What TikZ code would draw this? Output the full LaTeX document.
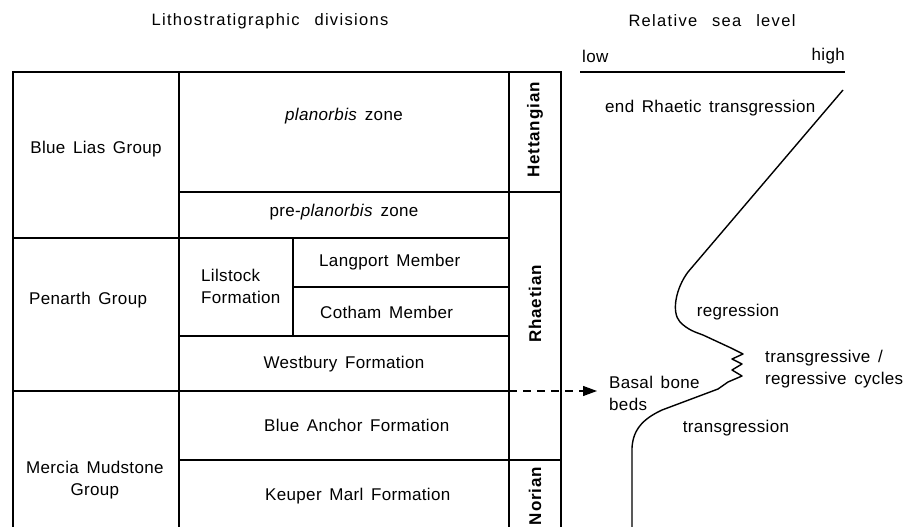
\documentclass[tikz,border=0pt]{standalone}
\usepackage{fontspec}
\setmainfont{Liberation Sans}
\usetikzlibrary{arrows.meta}

\newcommand\litfont{\fontsize{17}{22}\selectfont\addfontfeatures{LetterSpace=2}\spaceskip=0.45em\relax}
\newcommand\headfont{\fontsize{16.5}{19}\selectfont\addfontfeatures{LetterSpace=8}\spaceskip=0.9em\relax}
\newcommand\stagefont{\fontsize{17}{20}\selectfont\bfseries\addfontfeatures{LetterSpace=5}}

\begin{document}
\begin{tikzpicture}
        [x=1pt, y=-1pt,
        rule/.style={line width=1.1pt, black},
        txt/.style={font=\litfont, inner sep=0pt, align=center},
        stage/.style={font=\stagefont, rotate=90, inner sep=0pt},
        head/.style={font=\headfont, inner sep=0pt},
        sealevel/.style={line width=1.4pt, line join=round},
        bonebed/.style={line width=1.1pt, dash pattern=on 8pt off 6pt, -{Triangle[length=14pt,width=10pt]}}]

        \useasboundingbox (0,0) rectangle (914,527);

        % headings
        \node[head] (litho) at (270,21) {Lithostratigraphic divisions};
        \node[head] (relsea) at (712,21) {Relative sea level};

        % table lines
        \draw[rule] (13,527) -- (13,72) -- (561,72) -- (561,527);
        \draw[rule] (179,72) -- (179,527);
        \draw[rule] (509,72) -- (509,527);
        \draw[rule] (293,238) -- (293,336);
        \draw[rule] (179,192) -- (561,192);
        \draw[rule] (13,238) -- (509,238);
        \draw[rule] (293,287) -- (509,287);
        \draw[rule] (179,336) -- (509,336);
        \draw[rule] (13,391) -- (509,391);
        \draw[rule] (179,460) -- (561,460);

        % groups
        \node[txt] (bluelias) at (96,149) {Blue Lias Group};
        \node[txt, anchor=west] (penarth) at (29,300) {Penarth Group};
        \node[txt, anchor=west] (mercia) at (26,480) {Mercia Mudstone\\Group};

        % formations and zones
        \node[txt] (planorbis) at (344,116) {\textit{planorbis} zone};
        \node[txt] (preplan) at (344,212) {pre-\textit{planorbis} zone};
        \node[txt, align=left, anchor=west] (lilstock) at (201,286) {Lilstock\\Formation};
        \node[txt, anchor=west] (langport) at (319,262) {Langport Member};
        \node[txt, anchor=west] (cotham) at (320,312) {Cotham Member};
        \node[txt] (westbury) at (344,364) {Westbury Formation};
        \node[txt, anchor=west] (blueanchor) at (264,425) {Blue Anchor Formation};
        \node[txt, anchor=west] (keuper) at (265,496) {Keuper Marl Formation};

        % stages
        \node[stage] (hett) at (535,130) {Hettangian};
        \node[stage] (rhaet) at (535,304) {Rhaetian};
        \node[stage] (nor) at (535,496) {Norian};

        % sea level axis
        \draw[rule] (580,72) -- (845,72);
        \node[txt, anchor=west] (low) at (582,56) {low};
        \node[txt, anchor=east] (high) at (845,56) {high};

        % sea level curve
        \draw[sealevel] (843,90) -- (688,272)
            .. controls (676,288) and (671,312) .. (680,322)
            .. controls (688,330) and (695,332) .. (703,335)
            -- (731,348) -- (743,354) -- (732,359) -- (742,364) -- (732,370)
            -- (742,376) -- (728,382) -- (718,389) -- (662,410)
            .. controls (645,418) and (633,428) .. (632,448) -- (632,527);

        % curve labels
        \node[txt, anchor=west] (endrh) at (605,108) {end Rhaetic transgression};
        \node[txt] (regr) at (738,312) {regression};
        \node[txt, align=left, anchor=west] (cycles) at (765,369) {transgressive /\\regressive cycles};
        \node[txt, align=left, anchor=west] (basal) at (609,393) {Basal bone\\beds};
        \node[txt] (transg) at (736,428) {transgression};

        % bone bed marker
        \coordinate (bbstart) at (509,391);
        \draw[bonebed] (bbstart) -- ([xshift=-12pt, yshift=2pt]basal.west);

\end{tikzpicture}
\end{document}
